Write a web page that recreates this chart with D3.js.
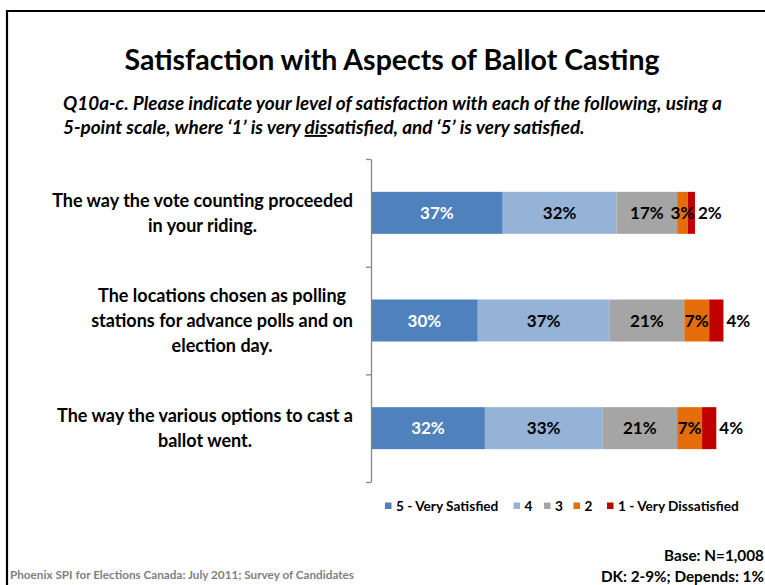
<!DOCTYPE html>
<html><head><meta charset="utf-8">
<script src="https://cdn.jsdelivr.net/npm/d3@7"></script>
<style>
html,body{margin:0;padding:0;background:#fff;overflow:hidden;}
svg{display:block;}
text{font-family:Lato,"Open Sans",sans-serif;}
</style></head>
<body>
<svg id="chart" width="765" height="585"></svg>
<script>
const categories = [
  ["The way the vote counting proceeded", "in your riding."],
  ["The locations chosen as polling", "stations for advance polls and on", "election day."],
  ["The way the various options to cast a", "ballot went."]
];
const seriesNames = ["5 - Very Satisfied", "4", "3", "2", "1 - Very Dissatisfied"];
const seriesColors = ["#4F81BD", "#95B3D7", "#A5A5A5", "#E46C0A", "#C00000"];
const v5 = [37, 30, 32];
const v4 = [32, 37, 33];
const v3 = [17, 21, 21];
const v2 = [3, 7, 7];
const v1 = [2, 4, 4];
const xTicks = [0, 100];

const values = [v5, v4, v3, v2, v1];
const svg = d3.select("#chart");

function fit(sel, target) {
  const w = sel.node().getComputedTextLength();
  const fs = parseFloat(sel.attr("font-size"));
  sel.attr("font-size", (fs * target / w).toFixed(2));
  return fs * target / w;
}

// frame
svg.append("line").attr("x1",7).attr("x2",765).attr("y1",11).attr("y2",11).attr("stroke","#000").attr("stroke-width",2.2);
svg.append("line").attr("x1",7).attr("x2",7).attr("y1",10).attr("y2",585).attr("stroke","#000").attr("stroke-width",2.2);

// title
const title = svg.append("text").attr("x",392).attr("y",70).attr("text-anchor","middle")
  .attr("font-size",26).attr("font-weight","bold").attr("fill","#000")
  .text("Satisfaction with Aspects of Ballot Casting");
fit(title, 535);

// subtitle
const sub1 = svg.append("text").attr("x",63).attr("y",110).attr("font-size",16)
  .attr("font-weight","bold").attr("font-style","italic").attr("fill","#000")
  .text("Q10a-c. Please indicate your level of satisfaction with each of the following, using a");
const subFs = fit(sub1, 659);
const sub2 = svg.append("text").attr("x",63).attr("y",134).attr("font-size",subFs)
  .attr("font-weight","bold").attr("font-style","italic").attr("fill","#000");
sub2.append("tspan").text("5-point scale, where \u20181\u2019 is very ");
sub2.append("tspan").attr("text-decoration","underline").text("dis");
sub2.append("tspan").text("satisfied, and \u20185\u2019 is very satisfied.");

// scales
const x = d3.scaleLinear().domain([xTicks[0], xTicks[1]]).range([371, 727]);
const y = d3.scaleBand().domain(d3.range(categories.length)).range([159, 482])
  .paddingInner(0.61).paddingOuter(0.305);
const yl = d3.scaleLinear().domain([0, categories.length]).range([159, 482]);

// stacked data
const rows = categories.map((c, i) => {
  const o = {i};
  seriesNames.forEach((s, k) => o[s] = values[k][i]);
  return o;
});
const stack = d3.stack().keys(seriesNames)(rows);

const g = svg.append("g");
stack.forEach((layer, k) => {
  g.selectAll(null).data(layer).enter().append("rect")
    .attr("x", d => x(d[0])).attr("width", d => x(d[1]) - x(d[0]))
    .attr("y", (d, i) => y(i)).attr("height", y.bandwidth())
    .attr("fill", seriesColors[k]);
});

// axis
const axis = svg.append("g").attr("transform","translate(371,0)")
  .call(d3.axisLeft(yl).tickValues(d3.range(categories.length + 1)).tickFormat("").tickSize(5).tickSizeOuter(0));
axis.selectAll("path,line").attr("stroke","#868686").attr("stroke-width",1.3);

// value labels
stack.forEach((layer, k) => {
  const last = k === seriesNames.length - 1;
  g.selectAll(null).data(layer).enter().append("text")
    .attr("x", d => last ? x(d[1]) + 3 : (x(d[0]) + x(d[1])) / 2)
    .attr("y", (d, i) => y(i) + y.bandwidth() / 2)
    .attr("dy","0.36em")
    .attr("text-anchor", last ? "start" : "middle")
    .attr("font-size", 17).attr("font-weight","bold")
    .attr("fill", k === 0 ? "#fff" : "#000")
    .text(d => (d[1] - d[0]) + "%");
});

// category labels
const probe = svg.append("text").attr("font-size",15).attr("font-weight","bold").text(categories[0][0]);
const catFs = 15 * 301 / probe.node().getComputedTextLength();
probe.remove();
const lineH = 25;
categories.forEach((lines, i) => {
  const t = svg.append("text").attr("font-size", catFs).attr("font-weight","bold").attr("fill","#000");
  const spans = lines.map(l => t.append("tspan").text(l));
  const maxW = d3.max(spans, s => s.node().getComputedTextLength());
  const cx = 353 - maxW / 2;
  const cy = y(i) + y.bandwidth() / 2;
  const top = cy - (lines.length - 1) * lineH / 2;
  spans.forEach((s, j) => s.attr("x", cx).attr("y", top + j * lineH).attr("dy","0.36em").attr("text-anchor","middle"));
});

// legend
const legX = [385, 513.5, 544, 573.5, 607];
const lg = svg.append("g");
const lp = svg.append("text").attr("font-size",13).attr("font-weight","bold").text(seriesNames[0]);
const legFs = 13 * 102.5 / lp.node().getComputedTextLength();
lp.remove();
seriesNames.forEach((s, k) => {
  lg.append("rect").attr("x", legX[k]).attr("y", 502.5).attr("width", 6.5).attr("height", 6.5).attr("fill", seriesColors[k]);
  lg.append("text").attr("x", legX[k] + 11).attr("y", 506.5).attr("dy","0.36em")
    .attr("font-size", legFs).attr("font-weight","bold").attr("fill","#000").text(s);
});

// footer
const f1 = svg.append("text").attr("x",10).attr("y",579).attr("font-size",10).attr("font-weight","bold")
  .attr("fill","#7F7F7F").text("Phoenix SPI for Elections Canada: July 2011; Survey of Candidates");
fit(f1, 344);
const b1 = svg.append("text").attr("x",764).attr("y",561).attr("text-anchor","end").attr("font-size",13).attr("font-weight","bold")
  .attr("fill","#000").text("Base: N=1,008");
const bFs = fit(b1, 100);
svg.append("text").attr("x",764).attr("y",582).attr("text-anchor","end").attr("font-size",bFs).attr("font-weight","bold")
  .attr("fill","#000").text("DK: 2-9%; Depends: 1%");
</script>
</body></html>
